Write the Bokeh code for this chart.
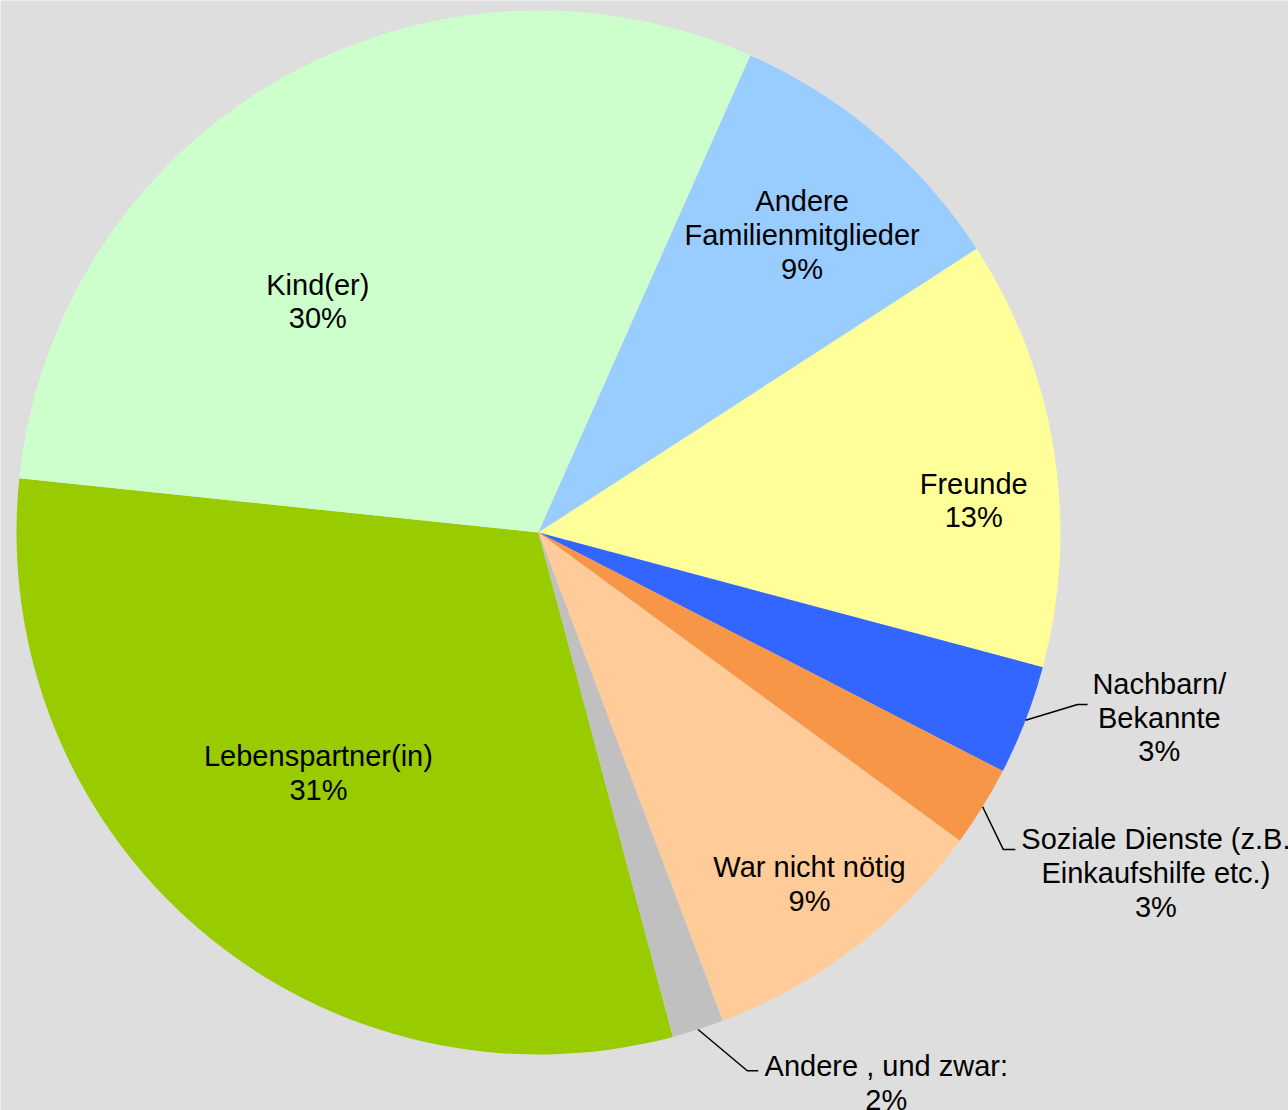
import math
from bokeh.plotting import figure
from bokeh.models import Range1d, ColumnDataSource
from bokeh.core.properties import value
from bokeh.embed import file_html
from bokeh.resources import INLINE

# ---- data ----
categories = ["Lebenspartner(in)", "Kind(er)", "Andere\nFamilienmitglieder", "Freunde",
              "Nachbarn/\nBekannte", "Soziale Dienste (z.B.\nEinkaufshilfe etc.)",
              "War nicht nötig", "Andere , und zwar:"]
shares = [30.8, 30.0, 9.2, 13.3, 3.4, 2.5, 9.2, 1.6]

# ---- style / layout ----
colors = ["#99CC00", "#CCFFCC", "#99CCFF", "#FFFF99", "#3366FF", "#F79646", "#FFCC99", "#C0C0C0"]
BG = "#DEDEDE"
W, H = 1288, 1110
CX, CY, R = 538, 578, 522
START_CLOCK = 165.08  # degrees clockwise from 12 o'clock for first slice
# label centre: (clock angle deg, radius fraction)
label_pos = [(222.5, 0.624), (316.3, 0.612), (41.5, 0.762), (85.8, 0.836),
             (106.6, 1.241), (118.9, 1.351), (142.4, 0.851), (147.7, 1.247)]
# leader line elbow: (clock angle deg, radius fraction, horizontal length px) or None
leaders = [None, None, None, None, (107.7, 1.084, 10), (124.3, 1.078, 12), None, (158.8, 1.106, 11)]


def polar(theta_deg, r):
    t = math.radians(theta_deg)
    return CX + r * math.sin(t), CY + r * math.cos(t)


total = sum(shares)
starts, ends, mids = [], [], []
acc = 0.0
for v in shares:
    c0 = START_CLOCK + 360.0 * acc / total
    acc += v
    c1 = START_CLOCK + 360.0 * acc / total
    starts.append(math.radians(90 - c1))
    ends.append(math.radians(90 - c0))
    mids.append((c0 + c1) / 2)

p = figure(width=W, height=H, x_range=Range1d(0, W), y_range=Range1d(0, H),
           output_backend="svg", toolbar_location=None, min_border=0)
p.axis.visible = False
p.grid.visible = False
p.outline_line_color = None
p.background_fill_color = BG
p.border_fill_color = BG

src = ColumnDataSource(dict(x=[CX] * len(shares), y=[CY] * len(shares),
                            s=starts, e=ends, c=colors))
p.wedge(x="x", y="y", radius=R, start_angle="s", end_angle="e",
        fill_color="c", line_color=None, source=src)

# leader lines
lxs, lys = [], []
for i, ld in enumerate(leaders):
    if ld is None:
        continue
    x0, y0 = polar(mids[i], R)
    x1, y1 = polar(ld[0], ld[1] * R)
    lxs.append([x0, x1, x1 + ld[2]])
    lys.append([y0, y1, y1])
p.multi_line(xs=lxs, ys=lys, line_color="black", line_width=1.5)

# labels
tx, ty, tt = [], [], []
for i, name in enumerate(categories):
    pct = math.floor(shares[i] / total * 100 + 0.5)
    x, y = polar(label_pos[i][0], label_pos[i][1] * R)
    tx.append(x)
    ty.append(y)
    tt.append(f"{name}\n{pct}%")
p.text(x=tx, y=ty, text=tt, text_font=value("Liberation Sans"), text_font_size="29px",
       text_align="center", text_baseline="middle", text_color="black", text_line_height=1.06)

open("out.html", "w").write(file_html(p, INLINE))
